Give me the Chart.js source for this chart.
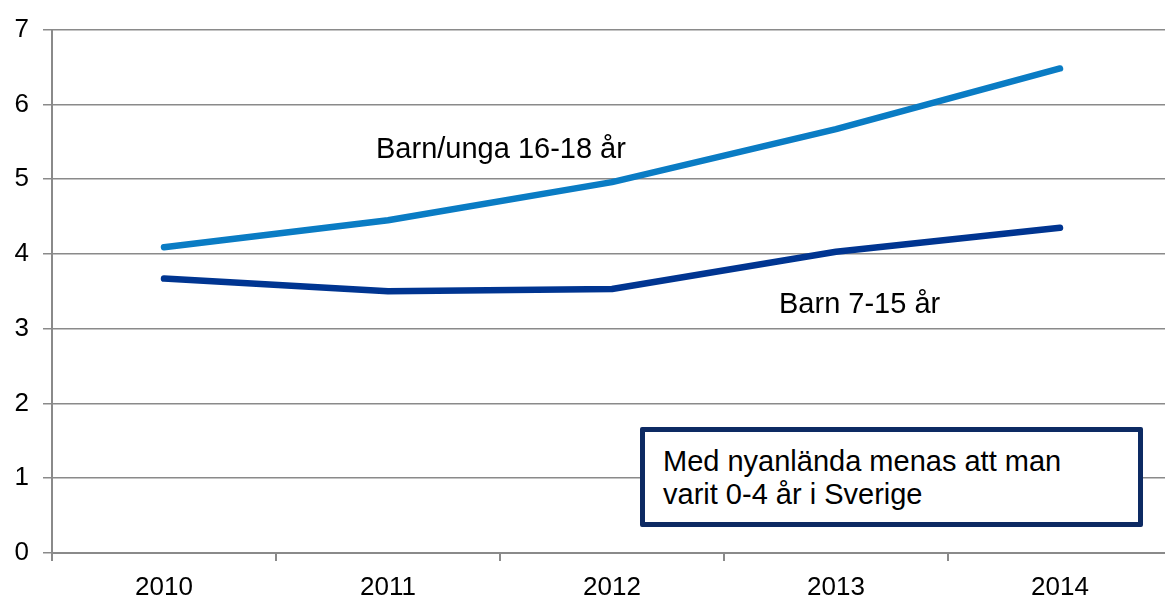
<!DOCTYPE html>
<html lang="sv">
<head>
<meta charset="utf-8">
<title>Nyanlända barn och unga</title>
<script src="https://cdn.jsdelivr.net/npm/chart.js@4/dist/chart.umd.min.js"></script>
<style>
  html, body { margin: 0; padding: 0; background: #fff; overflow: hidden; }
  #wrap { position: relative; width: 1165px; height: 597px; overflow: hidden; }
  canvas { position: absolute; left: 0; top: 0; }
  .lbl {
    position: absolute;
    font-family: "Liberation Sans", Arial, sans-serif;
    font-size: 29px;
    line-height: 29px;
    color: #000;
    white-space: nowrap;
  }
  #note {
    position: absolute;
    left: 640px; top: 427px;
    width: 503px; height: 100px;
    box-sizing: border-box;
    border: 5px solid #0d2a63;
    border-radius: 2px;
    background: #fff;
    font-family: "Liberation Sans", Arial, sans-serif;
    font-size: 29px;
    line-height: 33px;
    color: #000;
    padding: 13px 0 0 18px;
  }
</style>
</head>
<body>
<div id="wrap">
  <canvas id="chart" width="1175" height="597"></canvas>
  <div class="lbl" style="left:376px; top:134px;">Barn/unga 16-18 år</div>
  <div class="lbl" style="left:779px; top:289px;">Barn 7-15 år</div>
  <div id="note">Med nyanlända menas att man<br>varit 0-4 år i Sverige</div>
</div>
<script>
// values
const years = ['2010', '2011', '2012', '2013', '2014'];
const unga16_18 = [4.09, 4.45, 4.96, 5.67, 6.48];
const barn7_15 = [3.67, 3.50, 3.53, 4.03, 4.35];
const yTicks = [0, 1, 2, 3, 4, 5, 6, 7];

const AXIS_GREY = '#8a8a8a';
const FONT = { family: '"Liberation Sans", Arial, sans-serif', size: 26 };

new Chart(document.getElementById('chart'), {
  type: 'line',
  data: {
    labels: years,
    datasets: [
      {
        label: 'Barn/unga 16-18 år',
        data: unga16_18,
        borderColor: '#0a7cc4',
        borderWidth: 6.5,
        borderCapStyle: 'round',
        borderJoinStyle: 'round',
        pointRadius: 0,
        tension: 0,
      },
      {
        label: 'Barn 7-15 år',
        data: barn7_15,
        borderColor: '#003591',
        borderWidth: 6.5,
        borderCapStyle: 'round',
        borderJoinStyle: 'round',
        pointRadius: 0,
        tension: 0,
      },
    ],
  },
  options: {
    responsive: false,
    animation: false,
    devicePixelRatio: 1,
    layout: { padding: { top: 29, right: 3, left: 0, bottom: 0 } },
    plugins: {
      legend: { display: false },
      tooltip: { enabled: false },
    },
    scales: {
      x: {
        offset: true,
        grid: {
          offset: true,
          drawOnChartArea: false,
          drawTicks: true,
          tickLength: 8,
          color: AXIS_GREY,
          lineWidth: 2,
        },
        border: { color: AXIS_GREY, width: 2 },
        ticks: { color: '#000', font: FONT, padding: 11, maxRotation: 0 },
        afterFit: (s) => { s.height = 44; },
      },
      y: {
        min: 0,
        max: 7,
        afterBuildTicks: (s) => { s.ticks = yTicks.map((v) => ({ value: v })); },
        grid: {
          color: AXIS_GREY,
          lineWidth: 1.5,
          tickLength: 9,
        },
        border: { color: AXIS_GREY, width: 2 },
        ticks: { color: '#000', font: FONT, padding: 14 },
        afterFit: (s) => { s.width = 52; },
      },
    },
  },
});
</script>
</body>
</html>
